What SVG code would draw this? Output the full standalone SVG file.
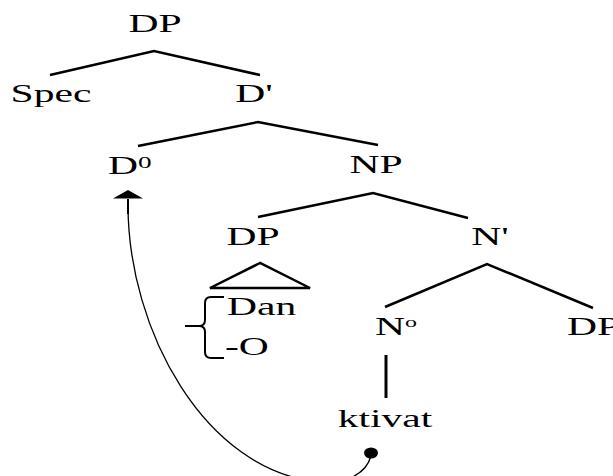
<svg xmlns="http://www.w3.org/2000/svg" width="613" height="476" viewBox="0 0 613 476">
<style>
text{font-family:"Liberation Serif","Times New Roman",serif;font-size:26px;fill:#000}
.e{stroke:#000;stroke-width:2.5;fill:none;stroke-linecap:butt}
.sup{font-size:17px}
</style>
<rect width="613" height="476" fill="#fff"/>
<g id="connectors">
<polyline class="e" points="50,75 154,51 260,75"/>
<polyline class="e" points="138,146 258,122 378,145"/>
<polyline class="e" points="258,217 373,193 468,218"/>
<polyline class="e" points="385,307 487,264 593,308"/>
<line class="e" x1="386" y1="355" x2="386" y2="398" style="stroke-width:3"/>
<polygon class="e" points="260,263 210,288 310,288"/>
<path class="e" style="stroke-width:2" d="M224,297 L211,297 Q205,297 205,303 L205,320 Q205,326 199,326 L185,326 M199,326 Q205,326 205,332 L205,352 Q205,358 211,358 L224,358"/>
<path d="M371,456 C366,474 346,484 320,482 C205,472 128,330 128,205" fill="none" stroke="#000" stroke-width="1.3"/>
<path d="M128,214 L128,199" stroke="#000" stroke-width="2"/>
<path d="M128,190 L143,198.5 L113,198.5 Z" fill="#000"/>
<ellipse cx="371" cy="453" rx="7" ry="5.5" fill="#000"/>
</g>
<g id="DP_root"><text transform="translate(155,32) scale(1.6,1)" text-anchor="middle">DP</text></g>
<g id="Spec"><text transform="translate(51,102) scale(1.6,1)" text-anchor="middle">Spec</text></g>
<g id="Dbar"><text transform="translate(254,102) scale(1.6,1)" text-anchor="middle">D'</text></g>
<g id="D0"><text transform="translate(108,174) scale(1.6,1)">D<tspan class="sup" dy="-6">0</tspan></text></g>
<g id="NP"><text transform="translate(376,173) scale(1.6,1)" text-anchor="middle">NP</text></g>
<g id="DP_spec"><text transform="translate(253,245) scale(1.6,1)" text-anchor="middle">DP</text></g>
<g id="Nbar"><text transform="translate(490,245) scale(1.6,1)" text-anchor="middle">N'</text></g>
<g id="Dan"><text transform="translate(227,315) scale(1.6,1)">Dan</text></g>
<g id="O"><text transform="translate(225,355) scale(1.6,1)">-O</text></g>
<g id="N0"><text transform="translate(375,335) scale(1.6,1)">N<tspan class="sup" dy="-8" style="font-size:15px">o</tspan></text></g>
<g id="DP_comp"><text transform="translate(567,335) scale(1.6,1)">DP</text></g>
<g id="ktivat"><text transform="translate(385,427) scale(1.6,1)" text-anchor="middle">ktivat</text></g>
</svg>
